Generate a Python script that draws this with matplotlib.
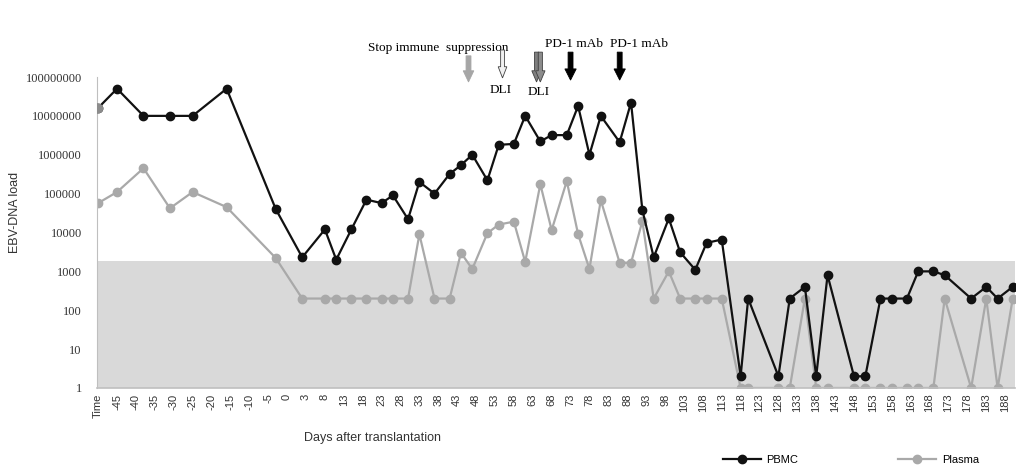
import matplotlib

matplotlib.use("Agg")
import matplotlib.pyplot as plt
from matplotlib.patches import FancyArrow
from matplotlib.lines import Line2D
import matplotlib.transforms as mtransforms

# sampling days (category labels) and loads
days = ["Time", -45, -38, -31, -25, -16, -3, 2, 8, 11, 15, 19, 23, 26, 30, 33, 37, 41, 44, 47,
        51, 54, 58, 61, 65, 68, 72, 75, 78, 81, 86, 89, 92, 95, 99, 102, 106, 109, 113,
        118, 120, 128, 131, 135, 138, 141, 148, 151, 155, 158, 162, 165, 169, 172, 179, 183, 186, 190]
pbmc = [1.6e7, 5e7, 1e7, 1e7, 1e7, 5e7, 4e4, 2300, 1.2e4, 2000, 1.2e4, 7e4, 5.7e4, 9e4, 2.2e4, 2e5,
        1e5, 3.2e5, 5.4e5, 1e6, 2.2e5, 1.8e6, 1.9e6, 1e7, 2.2e6, 3.2e6, 3.2e6, 1.8e7, 1e6, 1e7,
        2.1e6, 2.2e7, 3.8e4, 2300, 2.3e4, 3100, 1100, 5400, 6600,
        2, 200, 2, 200, 400, 2, 800, 2, 2, 200, 200, 200, 1000, 1000, 800, 200, 400, 200, 400]
plasma = [5.7e4, 1.1e5, 4.5e5, 4.2e4, 1.1e5, 4.5e4, 2200, 200, 200, 200, 200, 200, 200, 200, 200, 9000,
          200, 200, 3000, 1150, 9600, 1.6e4, 1.9e4, 1750, 1.75e5, 1.15e4, 2.1e5, 9000, 1150, 6.8e4,
          1650, 1650, 1.95e4, 200, 1000, 200, 200, 200, 200,
          1, 1, 1, 1, 200, 1, 1, 1, 1, 1, 1, 1, 1, 1, 200, 1, 200, 1, 200]
threshold = 1900

tick_labels = ["Time", -45, -40, -35, -30, -25, -20, -15, -10, -5, 0] + list(range(3, 189, 5))
yticks = [1, 10, 100, 1000, 10000, 100000, 1000000, 10000000, 100000000]

# events
stop_day = 46
dli_days = [55, 64, 65]
pd1_days = [73, 86]


def cat_pos(d):
    # category axis: one slot per day, "Time" first, two extra slots around day 0
    if d == "Time":
        return 0
    if d <= 0:
        return d + 50
    return d + 52


x = [cat_pos(d) for d in days]

fig = plt.figure(figsize=(10.18, 4.68), dpi=100)
ax = fig.add_axes([97 / 1018, 1 - 388 / 468, 918 / 1018, 311 / 468])

ax.axhspan(1, threshold, color="#d9d9d9", zorder=0, lw=0)
ax.plot(x, plasma, color="#a9a9a9", lw=1.6, marker="o", ms=6, zorder=2)
ax.plot(x, pbmc, color="#111111", lw=1.6, marker="o", ms=6, zorder=3)
ax.plot(x[0], pbmc[0], marker="o", ms=6, color="#8c8c8c", zorder=4)

ax.set_yscale("log")
ax.set_ylim(1, 1e8)
ax.set_xlim(-0.3, 242.6)
ax.set_yticks(yticks)
ax.set_yticklabels([str(v) for v in yticks], family="Liberation Serif", fontsize=9, color="#333333")
ax.minorticks_off()
ax.set_xticks([cat_pos(t) for t in tick_labels])
ax.set_xticklabels([str(t) for t in tick_labels], rotation=90, family="Liberation Sans", fontsize=8,
                   color="#333333")
ax.tick_params(axis="both", length=0)
ax.tick_params(axis="y", pad=11)
ax.tick_params(axis="x", pad=4)
for s in ["top", "right"]:
    ax.spines[s].set_visible(False)
ax.spines["left"].set_color("#bfbfbf")
ax.spines["bottom"].set_color("#bfbfbf")
ax.spines["bottom"].set_linewidth(1.2)

fig.text(15 / 1018, 1 - 212 / 468, "EBV-DNA load", rotation=90, ha="center", va="center",
         family="Liberation Sans", fontsize=9, color="#333333")
fig.text(373 / 1018, 1 - 438 / 468, "Days after translantation", ha="center", va="center",
         family="Liberation Sans", fontsize=9, color="#333333")

# event arrows above the plot
trans = mtransforms.blended_transform_factory(ax.transData, ax.transAxes)


def arrow(day, y0, y1, face, edge, shaft, head):
    ax.add_patch(FancyArrow(cat_pos(day), y0, 0, y1 - y0, width=shaft, head_width=head, head_length=0.036,
                            length_includes_head=True, transform=trans, facecolor=face, edgecolor=edge,
                            lw=0.6, clip_on=False, zorder=5))


arrow(stop_day, 1.068, 0.984, "#a6a6a6", "#a6a6a6", 1.3, 2.8)
arrow(dli_days[0], 1.087, 0.997, "#f0f0f0", "#404040", 1.0, 2.3)
arrow(dli_days[1], 1.080, 0.984, "#7f7f7f", "#404040", 1.1, 2.5)
arrow(dli_days[2], 1.080, 0.984, "#8c8c8c", "#404040", 1.1, 2.5)
for d in pd1_days:
    arrow(d, 1.080, 0.990, "#000000", "#000000", 1.3, 3.0)

serif = dict(family="Liberation Serif", fontsize=9.5, ha="center", va="center", transform=trans)
ax.text(cat_pos(38), 1.093, "Stop immune  suppression", **serif)
ax.text(cat_pos(54.5), 0.958, "DLI", **serif)
ax.text(cat_pos(64.5), 0.952, "DLI", **serif)
ax.text(cat_pos(74), 1.106, "PD-1 mAb", **serif)
ax.text(cat_pos(91), 1.106, "PD-1 mAb", **serif)

handles = [Line2D([], [], color="#111111", lw=1.6, marker="o", ms=6),
           Line2D([], [], color="#a9a9a9", lw=1.6, marker="o", ms=6)]
fig.legend(handles, ["PBMC", "Plasma"], loc="center", bbox_to_anchor=(0.836, 0.017), ncol=2,
           frameon=False, handlelength=3.4, columnspacing=9, handletextpad=0.5,
           prop={"family": "Liberation Sans", "size": 8})

fig.savefig("out.png", dpi=100)
